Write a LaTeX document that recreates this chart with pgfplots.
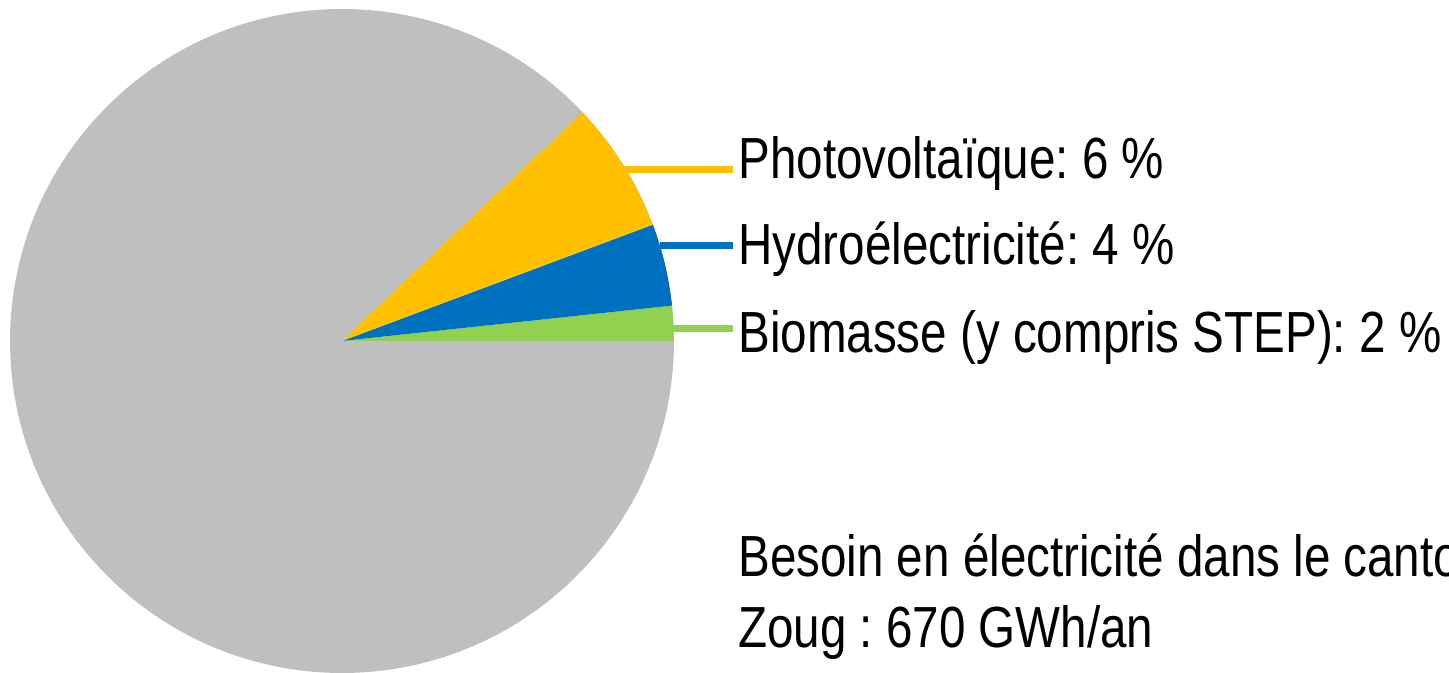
\documentclass[border=0pt]{standalone}
\usepackage{fontspec}
\setmainfont[FakeStretch=0.82]{Liberation Sans}
\usepackage{pgfplots}
\pgfplotsset{compat=1.18}
\definecolor{cgray}{HTML}{BFBFBF}
\definecolor{cpv}{HTML}{FFC000}
\definecolor{chydro}{HTML}{0070C0}
\definecolor{cbio}{HTML}{92D050}
\frenchspacing
\begin{document}
\begin{tikzpicture}
\path[use as bounding box] (0,0) rectangle (724.5pt,336.5pt);
\begin{axis}[
  at={(0,0)}, anchor=south west,
  scale only axis, width=724.5pt, height=336.5pt,
  xmin=0, xmax=1449, ymin=0, ymax=673,
  hide axis, clip=false]
% shares (%): biomasse 1.7, hydro 4.0, PV 6.4, rest 87.9 -> angles = 3.6*share
\fill[cbio]   (axis cs:342,332) -- ++(0:166pt)    arc[start angle=0,     end angle=6.12,  radius=166pt] -- cycle;
\fill[chydro] (axis cs:342,332) -- ++(6.12:166pt) arc[start angle=6.12,  end angle=20.52, radius=166pt] -- cycle;
\fill[cpv]    (axis cs:342,332) -- ++(20.52:166pt) arc[start angle=20.52, end angle=43.56, radius=166pt] -- cycle;
\fill[cgray]  (axis cs:342,332) -- ++(43.56:166pt) arc[start angle=43.56, end angle=360,  radius=166pt] -- cycle;
% leader lines
\draw[cpv, line width=3.5pt]    (axis cs:625,503) -- (axis cs:733,503);
\draw[chydro, line width=3.5pt] (axis cs:660,427) -- (axis cs:733,427);
\draw[cbio, line width=3.5pt]   (axis cs:673,344) -- (axis cs:733,344);
% labels
\node[anchor=base west, inner sep=0pt, font=\fontsize{29}{29}\selectfont] at (axis cs:738,494) {Photovoltaïque: 6 \%};
\node[anchor=base west, inner sep=0pt, font=\fontsize{29}{29}\selectfont] at (axis cs:738,408) {Hydroélectricité: 4 \%};
\node[anchor=base west, inner sep=0pt, font=\fontsize{29}{29}\selectfont] at (axis cs:738,320) {Biomasse (y compris STEP): 2 \%};
\node[anchor=base west, inner sep=0pt, font=\fontsize{29}{29}\selectfont] at (axis cs:738,96) {Besoin en électricité dans le canton de};
\node[anchor=base west, inner sep=0pt, font=\fontsize{29}{29}\selectfont] at (axis cs:738,25) {Zoug : 670 GWh/an};
\end{axis}
\end{tikzpicture}
\end{document}
